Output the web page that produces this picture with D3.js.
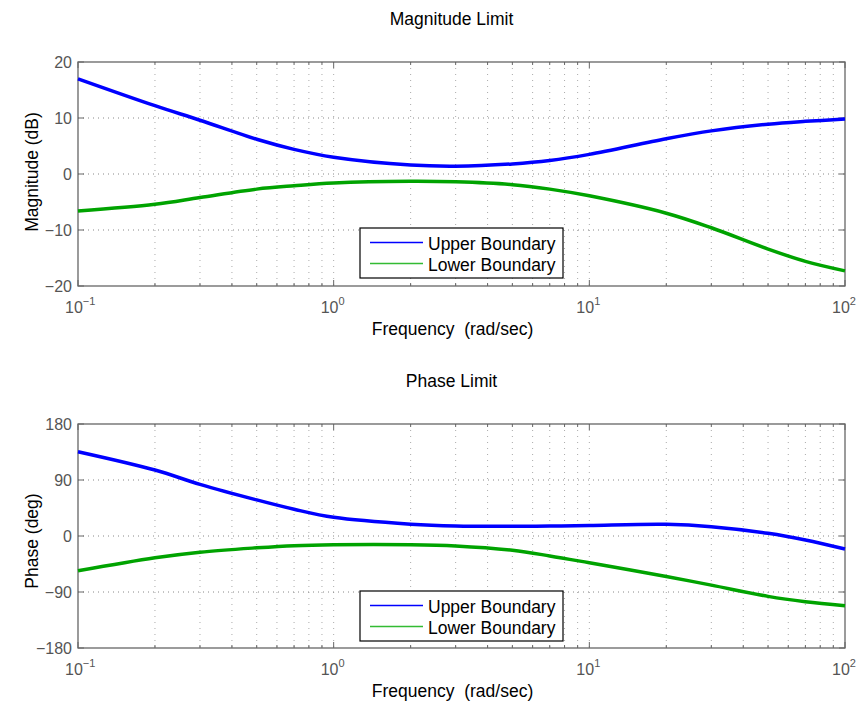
<!DOCTYPE html>
<html><head><meta charset="utf-8">
<script src="https://cdn.jsdelivr.net/npm/d3@7"></script>
<style>body{margin:0;background:#fff;} svg{display:block;font-family:"Liberation Sans",Arial,sans-serif;}</style>
</head><body>
<script>
const freqs = [0.1,0.2,0.3,0.5,0.7,1,2,3,5,7,10,20,30,50,70,100];
const magUpper = [17,12.2,9.6,6.2,4.4,3.0,1.6,1.4,1.8,2.4,3.5,6.3,7.7,8.9,9.4,9.8];
const magLower = [-6.6,-5.4,-4.2,-2.7,-2.1,-1.6,-1.3,-1.4,-1.9,-2.7,-3.9,-7.0,-9.6,-13.4,-15.6,-17.3];
const phUpper = [135.5,106,83,58,43,30,19,16,15.5,16,17,18.8,15,4.3,-6.4,-21];
const phLower = [-56,-35,-26,-19,-15.5,-14,-14,-16,-23,-32,-43,-65,-79,-97,-105.6,-112];
const magTicks = [-20,-10,0,10,20];
const phTicks = [-180,-90,0,90,180];
const decades = [-1,0,1,2];
const legendLabels = ["Upper Boundary","Lower Boundary"];

const W=861,H=707;
const svg=d3.select("body").append("svg").attr("width",W).attr("height",H);
const x=d3.scaleLog().domain([0.1,100]).range([78,845]);
const minor=[];
for(let d=-1;d<2;d++){for(let k=1;k<=9;k++){minor.push(k*Math.pow(10,d));}}
minor.push(100);

function panel(top,bottom,domain,ticks,upper,lower,title,ylab,ylabY,legendTop){
  const y=d3.scaleLinear().domain(domain).range([bottom,top]);
  const g=svg.append("g");
  // grid
  minor.forEach(f=>{
    if(f<=0.1+1e-9||f>=100-1e-9) return;
    g.append("line").attr("x1",x(f)).attr("x2",x(f)).attr("y1",top).attr("y2",bottom)
      .attr("stroke","#aaa").attr("stroke-width",1).attr("stroke-dasharray","1,5");
  });
  ticks.forEach(t=>{
    if(t===domain[0]||t===domain[1]) return;
    g.append("line").attr("x1",78).attr("x2",845).attr("y1",y(t)).attr("y2",y(t))
      .attr("stroke","#888").attr("stroke-width",1).attr("stroke-dasharray","1,4");
  });
  // tick marks
  minor.forEach(f=>{
    const major=decades.some(d=>Math.abs(Math.log10(f)-d)<1e-9);
    const len=major?6:3;
    g.append("line").attr("x1",x(f)).attr("x2",x(f)).attr("y1",bottom).attr("y2",bottom-len).attr("stroke","#666");
    g.append("line").attr("x1",x(f)).attr("x2",x(f)).attr("y1",top).attr("y2",top+len).attr("stroke","#666");
  });
  ticks.forEach(t=>{
    g.append("line").attr("x1",78).attr("x2",84).attr("y1",y(t)).attr("y2",y(t)).attr("stroke","#666");
    g.append("line").attr("x1",845).attr("x2",839).attr("y1",y(t)).attr("y2",y(t)).attr("stroke","#666");
    g.append("text").attr("x",72).attr("y",y(t)+6).attr("text-anchor","end").attr("font-size",16)
      .attr("fill","#555").text(t<0?"\u2212"+(-t):String(t));
  });
  // frame
  g.append("rect").attr("x",78).attr("y",top).attr("width",845-78).attr("height",bottom-top)
    .attr("fill","none").attr("stroke","#666").attr("stroke-width",1.3);
  // x labels
  decades.forEach(d=>{
    const px=x(Math.pow(10,d));
    const t=g.append("text").attr("x",px-13).attr("y",bottom+27).attr("font-size",16).attr("fill","#555");
    t.append("tspan").text("10");
    t.append("tspan").attr("dy",-8).attr("font-size",11).text(d<0?"\u2212"+(-d):String(d));
  });
  // curves
  const line=d3.line().x((d,i)=>x(freqs[i])).y(d=>y(d)).curve(d3.curveCatmullRom.alpha(0.5));
  g.append("path").attr("d",line(upper)).attr("fill","none").attr("stroke","#0000ff").attr("stroke-width",3.5);
  g.append("path").attr("d",line(lower)).attr("fill","none").attr("stroke","#00a300").attr("stroke-width",3.5);
  // titles
  svg.append("text").attr("x",451.5).attr("y",top-37).attr("text-anchor","middle").attr("font-size",17.5).attr("fill","#000").text(title);
  svg.append("text").attr("x",452.5).attr("y",bottom+49).attr("text-anchor","middle").attr("font-size",17.5).attr("fill","#000")
    .attr("xml:space","preserve").style("white-space","pre").text("Frequency  (rad/sec)");
  svg.append("text").attr("transform",`translate(38,${ylabY}) rotate(-90)`).attr("text-anchor","middle")
    .attr("font-size",17.5).attr("fill","#000").text(ylab);
  // legend
  const lg=svg.append("g");
  lg.append("rect").attr("x",360).attr("y",legendTop).attr("width",203).attr("height",50)
    .attr("fill","#fff").attr("stroke","#000").attr("stroke-width",1.2);
  const cols=["#0000ff","#33bb33"];
  legendLabels.forEach((l,i)=>{
    const cy=legendTop+14.5+i*21;
    lg.append("line").attr("x1",370).attr("x2",423).attr("y1",cy).attr("y2",cy).attr("stroke",cols[i]).attr("stroke-width",1.5);
    lg.append("text").attr("x",428).attr("y",cy+7).attr("font-size",17.5).attr("fill","#000").text(l);
  });
}
panel(62,286,[-20,20],magTicks,magUpper,magLower,"Magnitude Limit","Magnitude (dB)",172,228);
panel(424,648,[-180,180],phTicks,phUpper,phLower,"Phase Limit","Phase (deg)",541,591);
</script>
</body></html>
